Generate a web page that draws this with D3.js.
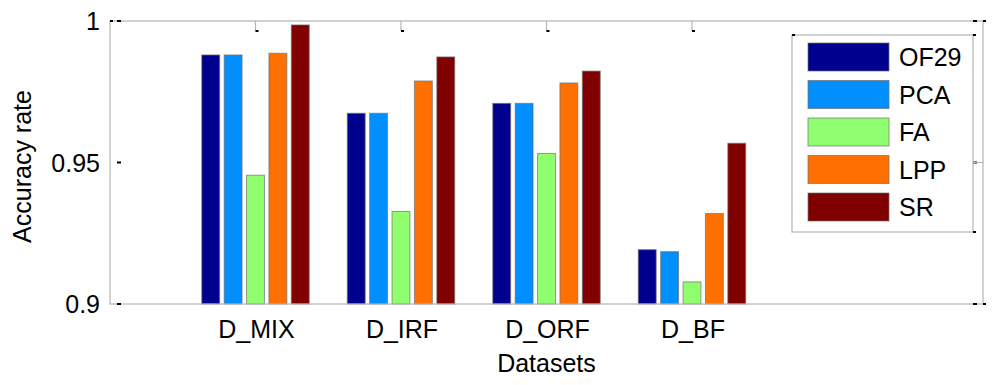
<!DOCTYPE html>
<html>
<head>
<meta charset="utf-8">
<script src="https://d3js.org/d3.v7.min.js"></script>
<style>
  body { margin: 0; background: #fff; }
  text { font-family: "Liberation Sans", Arial, sans-serif; fill: #000; }
</style>
</head>
<body>
<svg id="chart"></svg>
<script>
const datasets = ['D_MIX', 'D_IRF', 'D_ORF', 'D_BF'];
const methods = ['OF29', 'PCA', 'FA', 'LPP', 'SR'];
const methodColors = ['#00008f', '#008fff', '#8fff70', '#ff7000', '#800000'];

// one array per method, values per dataset
const of29 = [0.988, 0.9674, 0.9709, 0.9192];
const pca  = [0.988, 0.9674, 0.9709, 0.9185];
const fa   = [0.9455, 0.9327, 0.9532, 0.9078];
const lpp  = [0.9886, 0.9788, 0.9781, 0.932];
const sr   = [0.9986, 0.9873, 0.9823, 0.9568];
const series = [of29, pca, fa, lpp, sr];

const yTicks = [0.9, 0.95, 1];
const yTickLabels = ['0.9', '0.95', '1'];

const width = 1000;
const height = 385;
const padL = 110, padR = 983, padT = 21, padB = 304;

const svg = d3.select('#chart')
    .attr('width', width)
    .attr('height', height);

// x in bar-position units, like matlab: categories sit at 1..4, axis 0..6
const x = d3.scaleLinear().domain([0, 6]).range([padL, padR]);
const y = d3.scaleLinear().domain([0.9, 1]).range([padB, padT]);

const groupWidth = Math.min(0.8, methods.length / (methods.length + 1.5));
const slot = groupWidth / methods.length;
const barW = slot * 0.8;

function i2pos(i) { return i + 1; }

// bars
const bars = [];
series.forEach((vals, m) => {
    vals.forEach((v, i) => {
        bars.push({ m: m, i: i, v: v });
    });
});

svg.append('g').selectAll('rect')
    .data(bars)
    .join('rect')
    .attr('x', d => x(i2pos(d.i) + (d.m - (methods.length - 1) / 2) * slot - barW / 2))
    .attr('y', d => y(d.v))
    .attr('width', d => x(barW) - x(0))
    .attr('height', d => y(0.9) - y(d.v))
    .attr('fill', d => methodColors[d.m])
    .attr('stroke', '#707070')
    .attr('stroke-opacity', 0.7)
    .attr('stroke-width', 1);

// axes box
const axisColor = '#b4b4b4';
svg.append('rect')
    .attr('x', padL).attr('y', padT)
    .attr('width', padR - padL).attr('height', padB - padT)
    .attr('fill', 'none')
    .attr('stroke', axisColor)
    .attr('stroke-width', 1.2);

// y tick labels and the little dash marks
const yg = svg.append('g');
yg.selectAll('.ylab')
    .data(yTicks)
    .join('text')
    .attr('class', 'ylab')
    .attr('x', 100)
    .attr('y', d => y(d) + 9)
    .attr('text-anchor', 'end')
    .style('font-size', '25px')
    .text((d, i) => yTickLabels[i]);

yg.selectAll('.ldash')
    .data(yTicks)
    .join('rect')
    .attr('class', 'ldash')
    .attr('x', 117).attr('y', d => y(d) - 1)
    .attr('width', 4).attr('height', 2)
    .attr('fill', '#000');

yg.selectAll('.rdash')
    .data(yTicks)
    .join('rect')
    .attr('class', 'rdash')
    .attr('x', 973).attr('y', d => y(d) - 1)
    .attr('width', 4).attr('height', 2)
    .attr('fill', '#000');

yg.selectAll('.rdash2')
    .data([0.9, 1])
    .join('rect')
    .attr('class', 'rdash2')
    .attr('x', padR).attr('y', d => y(d) - 1)
    .attr('width', 3).attr('height', 2)
    .attr('fill', '#000');

// right side tick line at the middle tick
svg.append('line')
    .attr('x1', 973).attr('x2', padR)
    .attr('y1', y(0.95)).attr('y2', y(0.95))
    .attr('stroke', axisColor);

svg.append('rect')
    .attr('x', padL).attr('y', padT - 1)
    .attr('width', 3).attr('height', 2)
    .attr('fill', '#000');

// top tick marks at each category
const tg = svg.append('g');
tg.selectAll('line')
    .data(datasets)
    .join('line')
    .attr('x1', (d, i) => x(i2pos(i)))
    .attr('x2', (d, i) => x(i2pos(i)))
    .attr('y1', padT).attr('y2', padT + 10)
    .attr('stroke', axisColor)
    .attr('stroke-width', 1.2);
tg.selectAll('rect')
    .data(datasets)
    .join('rect')
    .attr('x', (d, i) => x(i2pos(i)))
    .attr('y', padT + 9)
    .attr('width', 3).attr('height', 2)
    .attr('fill', '#000');

// x labels
svg.append('g').selectAll('text')
    .data(datasets)
    .join('text')
    .attr('x', (d, i) => x(i2pos(i)) + 1)
    .attr('y', 338)
    .attr('text-anchor', 'middle')
    .style('font-size', '25px')
    .text(d => d);

svg.append('text')
    .attr('x', (padL + padR) / 2)
    .attr('y', 372)
    .attr('text-anchor', 'middle')
    .style('font-size', '25px')
    .text('Datasets');

svg.append('text')
    .attr('transform', `translate(31, ${(padT + padB) / 2 + 4}) rotate(-90)`)
    .attr('text-anchor', 'middle')
    .style('font-size', '25px')
    .text('Accuracy rate');

// legend
const lx = 792, ly = 35, lw = 181, lh = 197;
const legend = svg.append('g');
legend.append('rect')
    .attr('x', lx).attr('y', ly)
    .attr('width', lw).attr('height', lh)
    .attr('fill', '#fff')
    .attr('stroke', axisColor)
    .attr('stroke-width', 1.2);

legend.selectAll('.ldot')
    .data([[lx, ly], [lx + lw, ly], [lx + lw, ly + lh]])
    .join('rect')
    .attr('class', 'ldot')
    .attr('x', d => d[0]).attr('y', d => d[1] - 1)
    .attr('width', 3).attr('height', 2)
    .attr('fill', '#000');

const item = legend.selectAll('.item')
    .data(methods)
    .join('g')
    .attr('class', 'item')
    .attr('transform', (d, i) => `translate(808, ${43 + i * 37.5})`);

item.append('rect')
    .attr('width', 81).attr('height', 28)
    .attr('fill', (d, i) => methodColors[i])
    .attr('stroke', '#707070')
    .attr('stroke-opacity', 0.7);

item.append('text')
    .attr('x', 91)
    .attr('y', 23)
    .style('font-size', '25px')
    .text(d => d);
</script>
</body>
</html>
